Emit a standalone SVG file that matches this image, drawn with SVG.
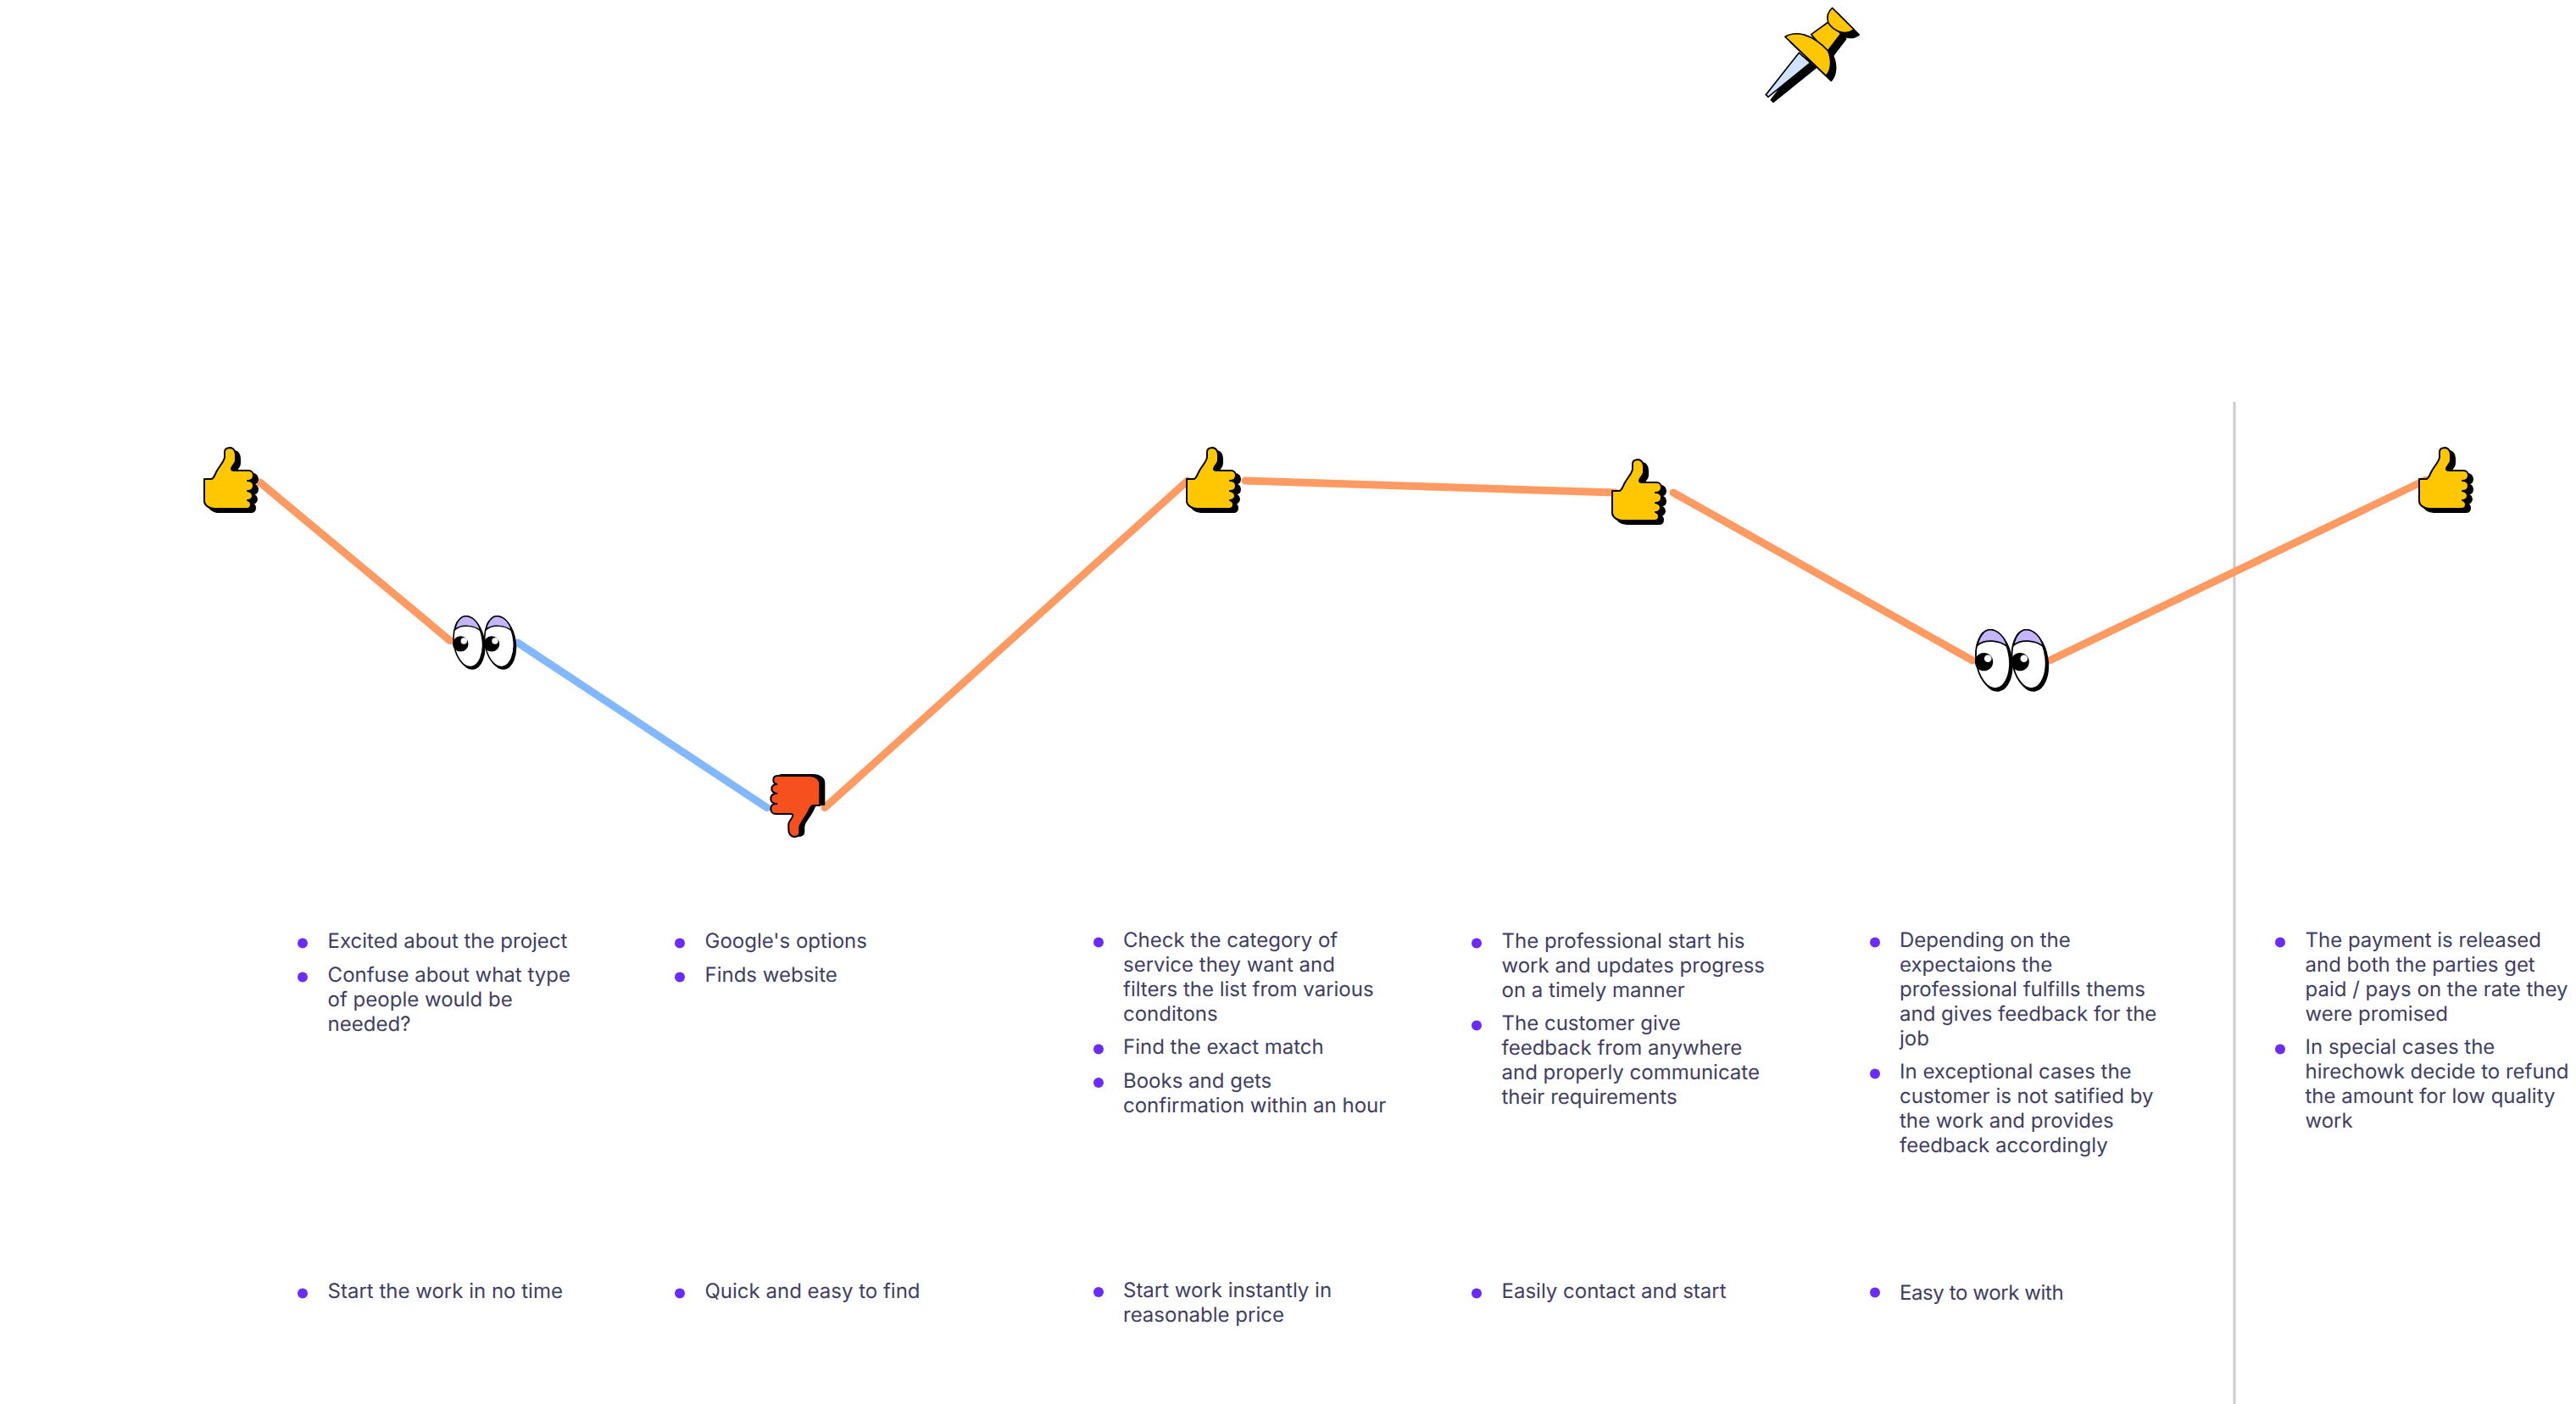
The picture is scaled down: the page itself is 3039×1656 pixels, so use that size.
<svg xmlns="http://www.w3.org/2000/svg" xmlns:xlink="http://www.w3.org/1999/xlink" width="3039" height="1656" viewBox="0 0 3039 1656">
<style>
text{font-family:Inter,"Noto Sans","Liberation Sans",sans-serif;font-size:24px;fill:#3f3e62;text-rendering:geometricPrecision}
.b{fill:#6a2cf6}
.c{fill:none;stroke-width:9;stroke-linecap:round}
.o{stroke:#ff9a62}.bl{stroke:#82b8ff}
.k{fill:#000;stroke:#000;stroke-width:2;stroke-linejoin:round}
.y{fill:#ffc700;stroke:#000;stroke-width:2;stroke-linejoin:round}
.r{fill:#f5501e;stroke:#000;stroke-width:2;stroke-linejoin:round}
.w{fill:#fff;stroke:#000;stroke-width:1.6}
.l{fill:#c4b5fd;stroke:#000;stroke-width:1.4}
</style>
<defs>
<path id="thumb" d="M0,37 L8,37 C11,37 12,33 14,29 C18,21 24,16 24,11 L24,5 C24,1 28,0 31,0 C35,1 37,4 37,9 L37,15 C37,19 32,22 32,25 C32,27 33,27 35,27 L52,27 C56,27 58,30 58,33 C58,37 55,39 51,39 C56,39 58,42 58,45 C58,49 55,51 51,51 C56,52 57,54 57,57 C57,60 54,62 51,62 C54,63 55,65 55,67 C55,70 53,72 50,72 L12,72 C6,72 0,68 0,63 Z"/>
<g id="eyes">
<ellipse class="k" cx="2.2" cy="2.4" rx="17" ry="30" style="stroke-width:1.6" transform="rotate(-7 2.2 2.4)"/>
<ellipse class="w" cx="0" cy="0" rx="17" ry="30" transform="rotate(-7)"/>
<path class="l" d="M-15.5,-14 C-14,-24 -8,-30 -3,-30 C5,-30 12,-23 14.5,-13 C7,-19 -8,-21 -15.5,-14 Z"/>
<circle cx="-9" cy="2.7" r="9.2" fill="#000"/><circle cx="-5" cy="-0.7" r="3.7" fill="#fff"/>
<ellipse class="k" cx="38.9" cy="2.4" rx="17" ry="30" style="stroke-width:1.6" transform="rotate(-7 38.9 2.4)"/>
<ellipse class="w" cx="36.7" cy="0" rx="17" ry="30" transform="rotate(-7 36.7 0)"/>
<path class="l" d="M21.2,-14 C22.7,-24 28.7,-30 33.7,-30 C41.7,-30 48.7,-23 51.2,-13 C43.7,-19 28.7,-21 21.2,-14 Z"/>
<circle cx="27.7" cy="2.7" r="9.2" fill="#000"/><circle cx="31.7" cy="-0.7" r="3.7" fill="#fff"/>
</g>
<circle id="dot" class="b" cy="-1.2" r="6"/>
</defs>
<rect width="3039" height="1656" fill="#fff"/>
<g id="divider"><line x1="2636" y1="474" x2="2636" y2="1656" stroke="#cccccc" stroke-width="3"/></g>
<g id="connectors">
<line class="c o" x1="306.7" y1="569" x2="531" y2="755.7"/>
<line class="c bl" x1="610.7" y1="758" x2="905" y2="952.7"/>
<line class="c o" x1="973" y1="952.7" x2="1401" y2="567"/>
<line class="c o" x1="1469" y1="567" x2="1906" y2="581"/>
<line class="c o" x1="1974" y1="581" x2="2327" y2="779"/>
<line class="c o" x1="2418" y1="779" x2="2862" y2="566"/>
</g>
<g id="pin" transform="translate(2060 0) scale(.3333)">
<g class="k" transform="translate(18 18)" style="stroke-width:5">
<path d="M187,187 L70,335 L78,343 L228,222 Z"/><path d="M138,130 C175,108 232,118 290,180 C305,215 300,250 283,268 Z"/><path d="M230,122 L295,75 L335,120 L285,185 Z"/><path d="M305,28 L382,105 C350,128 310,110 290,80 C285,60 290,40 305,28 Z"/>
</g>
<path d="M187,187 L70,335 L78,343 L228,222 Z" fill="#cfe2ff" stroke="#000" stroke-width="5"/>
<path class="y" style="stroke-width:5" d="M230,122 L295,75 L335,120 L285,185 Z"/>
<path class="y" style="stroke-width:5" d="M305,28 L382,105 C350,128 310,110 290,80 C285,60 290,40 305,28 Z"/>
<path class="y" style="stroke-width:5" d="M138,130 C175,108 232,118 290,180 C305,215 300,250 283,268 Z"/>
</g>
<g id="thumb1" transform="translate(241 528)"><use href="#thumb" class="k" x="5" y="4"/><use href="#thumb" class="y"/></g>
<g id="eyes1" transform="translate(552.3 756.7)"><use href="#eyes"/></g>
<g id="down" transform="translate(967.3 987)"><g transform="translate(5 -1)"><use href="#thumb" class="k" transform="rotate(180)"/></g><g transform="rotate(180)"><use href="#thumb" class="r"/></g></g>
<g id="thumb2" transform="translate(1400 528)"><use href="#thumb" class="k" x="5" y="4"/><use href="#thumb" class="y"/></g>
<g id="thumb3" transform="translate(1902 542)"><use href="#thumb" class="k" x="5" y="4"/><use href="#thumb" class="y"/></g>
<g id="eyes2" transform="translate(2351 777.5) scale(1.16)"><use href="#eyes"/></g>
<g id="thumb4" transform="translate(2854 528)"><use href="#thumb" class="k" x="5" y="4"/><use href="#thumb" class="y"/></g>
<g id="col1">
<use href="#dot" x="357" y="1113.7"/><text x="386.6" y="1118">Excited about the project</text>
<use href="#dot" x="357" y="1153.7"/><text y="1158"><tspan x="386.6">Confuse about what type</tspan><tspan x="386.6" y="1187">of people would be</tspan><tspan x="386.6" y="1216">needed?</tspan></text>
<use href="#dot" x="357" y="1526.7"/><text x="386.6" y="1531.4">Start the work in no time</text>
</g>
<g id="col2">
<use href="#dot" x="802" y="1113.7"/><text x="831.5" y="1118">Google's options</text>
<use href="#dot" x="802" y="1153.7"/><text x="831.5" y="1158">Finds website</text>
<use href="#dot" x="802" y="1526.7"/><text x="831.5" y="1531.4">Quick and easy to find</text>
</g>
<g id="col3">
<use href="#dot" x="1296" y="1112.7"/><text y="1117.3"><tspan x="1325">Check the category of</tspan><tspan x="1325" y="1146.3">service they want and</tspan><tspan x="1325" y="1175.3">filters the list from various</tspan><tspan x="1325" y="1204.3">conditons</tspan></text>
<use href="#dot" x="1296" y="1238.7"/><text x="1325" y="1243.3">Find the exact match</text>
<use href="#dot" x="1296" y="1278.3"/><text y="1283.3"><tspan x="1325">Books and gets</tspan><tspan x="1325" y="1312.3">confirmation within an hour</tspan></text>
<use href="#dot" x="1296" y="1525.3"/><text y="1530"><tspan x="1325">Start work instantly in</tspan><tspan x="1325" y="1559">reasonable price</tspan></text>
</g>
<g id="col4">
<use href="#dot" x="1742" y="1113.7"/><text y="1118"><tspan x="1771.5">The professional start his</tspan><tspan x="1771.5" y="1147">work and updates progress</tspan><tspan x="1771.5" y="1176">on a timely manner</tspan></text>
<use href="#dot" x="1742" y="1210.7"/><text y="1215.4"><tspan x="1771.5">The customer give</tspan><tspan x="1771.5" y="1244.4">feedback from anywhere</tspan><tspan x="1771.5" y="1273.4">and properly communicate</tspan><tspan x="1771.5" y="1302.4">their requirements</tspan></text>
<use href="#dot" x="1742" y="1526.7"/><text x="1771.5" y="1531.4">Easily contact and start</text>
</g>
<g id="col5">
<use href="#dot" x="2212" y="1112.7"/><text y="1117"><tspan x="2241">Depending on the</tspan><tspan x="2241" y="1146">expectaions the</tspan><tspan x="2241" y="1175">professional fulfills thems</tspan><tspan x="2241" y="1204">and gives feedback for the</tspan><tspan x="2241" y="1233">job</tspan></text>
<use href="#dot" x="2212" y="1267.6"/><text y="1272"><tspan x="2241">In exceptional cases the</tspan><tspan x="2241" y="1301">customer is not satified by</tspan><tspan x="2241" y="1330">the work and provides</tspan><tspan x="2241" y="1359">feedback accordingly</tspan></text>
<use href="#dot" x="2212" y="1525.8"/><text x="2241" y="1533" letter-spacing="-.4">Easy to work with</text>
</g>
<g id="col6">
<use href="#dot" x="2690" y="1112.7"/><text y="1117"><tspan x="2719.5">The payment is released</tspan><tspan x="2719.5" y="1146">and both the parties get</tspan><tspan x="2719.5" y="1175">paid / pays on the rate they</tspan><tspan x="2719.5" y="1204">were promised</tspan></text>
<use href="#dot" x="2690" y="1238.7"/><text y="1243"><tspan x="2719.5">In special cases the</tspan><tspan x="2719.5" y="1272">hirechowk decide to refund</tspan><tspan x="2719.5" y="1301">the amount for low quality</tspan><tspan x="2719.5" y="1330">work</tspan></text>
</g>
</svg>
